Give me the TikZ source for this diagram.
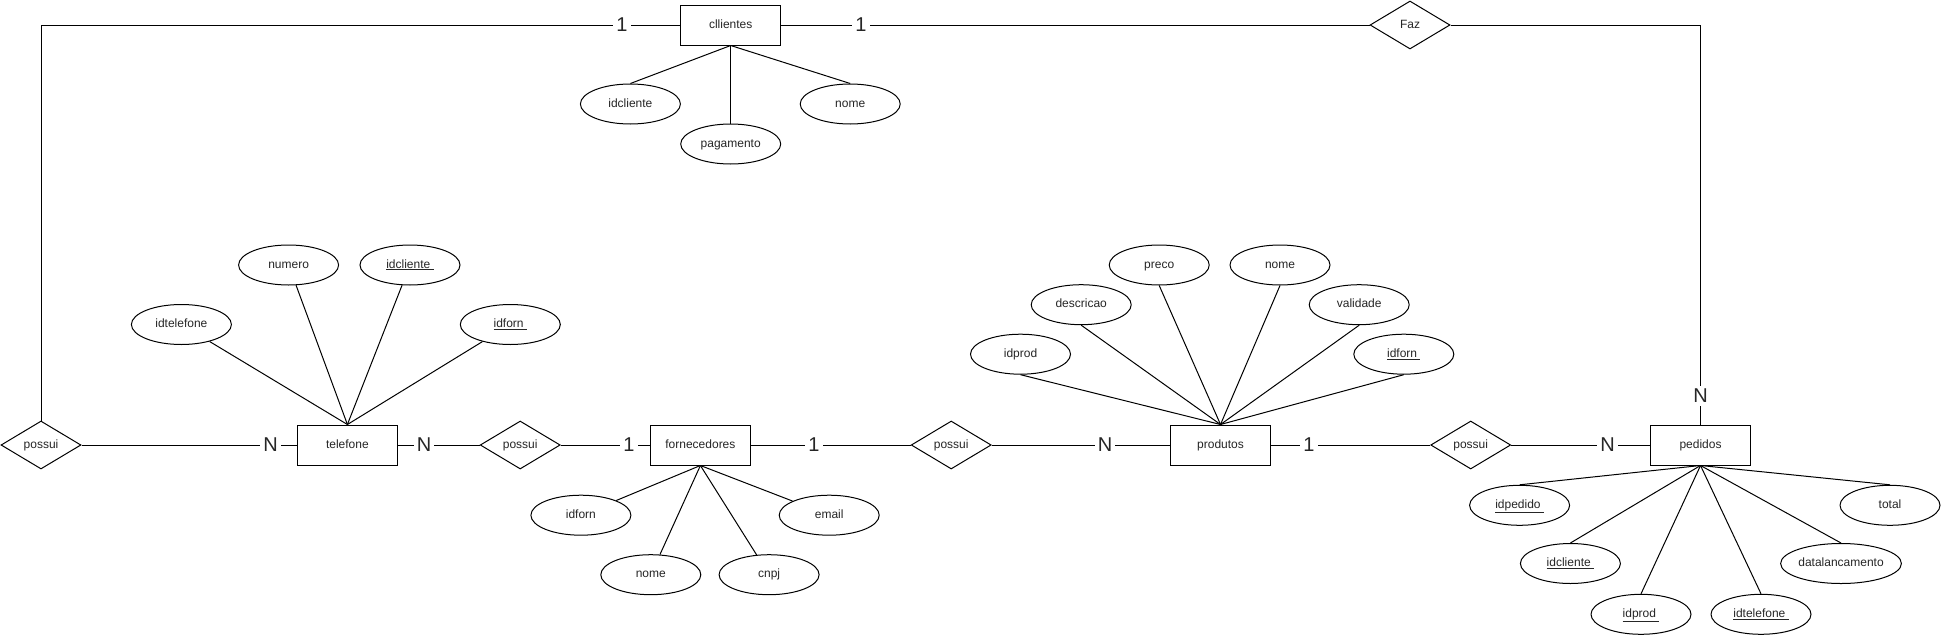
\documentclass[tikz,border=0pt]{standalone}
\usepackage{fontspec}
\setmainfont{Liberation Sans}
\usetikzlibrary{shapes.geometric}
\begin{document}
\begin{tikzpicture}[x=1pt,y=-1pt,line width=1pt,
  every node/.style={font=\fontsize{12}{14}\selectfont, text=black!85},
  ent/.style={draw, rectangle, minimum width=100pt, minimum height=40pt, inner sep=0pt, fill=white, text height=8.5pt, text depth=2.5pt},
  att/.style={draw, ellipse, minimum width=100pt, minimum height=40pt, inner sep=0pt, fill=white, text height=8.5pt, text depth=2.5pt},
  rel/.style={draw, diamond, aspect=1.667, minimum width=80pt, minimum height=48pt, inner sep=0pt, fill=white, text height=8.5pt, text depth=2.5pt},
  card/.style={fill=white, inner xsep=3pt, inner ysep=1pt, font=\fontsize{20}{20}\selectfont}
]
\useasboundingbox (0,0) rectangle (1942,637);

% entities
\node[ent] (cl) at (730.7,25) {cllientes};
\node[ent] (te) at (347.4,445) {telefone};
\node[ent] (fo) at (700.4,445) {fornecedores};
\node[ent] (pr) at (1220.5,445) {produtos};
\node[ent] (pe) at (1700.5,445) {pedidos};

% relationships
\node[rel] (rL) at (41,445) {possui};
\node[rel] (r2) at (520.2,445) {possui};
\node[rel] (r3) at (951.2,445) {possui};
\node[rel] (r4) at (1470.7,445) {possui};
\node[rel] (faz) at (1410,25) {Faz};

% clientes attributes
\node[att] (c1) at (630.4,104) {idcliente};
\node[att] (c2) at (730.7,144) {pagamento};
\node[att] (c3) at (850.2,104) {nome};

% telefone attributes
\node[att] (t1) at (181.4,324.5) {idtelefone};
\node[att] (t2) at (288.6,265) {numero};
\node[att] (t3) at (410,265) {\underline{idcliente\ }};
\node[att] (t4) at (510.3,324.5) {\underline{idforn\ }};

% fornecedores attributes
\node[att] (f1) at (580.9,515.2) {idforn};
\node[att] (f2) at (829.2,515.2) {email};
\node[att] (f3) at (650.8,574.7) {nome};
\node[att] (f4) at (769.1,574.7) {cnpj};

% produtos attributes
\node[att] (p1) at (1020.5,354.2) {idprod};
\node[att] (p2) at (1081.2,304.7) {descricao};
\node[att] (p3) at (1159.2,265) {preco};
\node[att] (p4) at (1280,265) {nome};
\node[att] (p5) at (1359.2,304.7) {validade};
\node[att] (p6) at (1403.8,354.2) {\underline{idforn\ }};

% pedidos attributes
\node[att] (e1) at (1519.6,505.3) {\underline{idpedido\ }};
\node[att] (e2) at (1890,505.3) {total};
\node[att] (e3) at (1570.4,563.5) {\underline{idcliente\ }};
\node[att] (e4) at (1841,563.5) {datalancamento};
\node[att] (e5) at (1641,614.3) {\underline{idprod\ }};
\node[att] (e6) at (1761,614.3) {\underline{idtelefone\ }};

% attribute links
\draw (cl.south) -- (c1.north);
\draw (cl.south) -- (c2.north);
\draw (cl.south) -- (c3.north);
\draw (te.north) -- (t1);
\draw (te.north) -- (t2);
\draw (te.north) -- (t3);
\draw (te.north) -- (t4);
\draw (fo.south) -- (f1);
\draw (fo.south) -- (f2);
\draw (fo.south) -- (f3);
\draw (fo.south) -- (f4);
\draw (pr.north) -- (p1.south);
\draw (pr.north) -- (p2.south);
\draw (pr.north) -- (p3.south);
\draw (pr.north) -- (p4.south);
\draw (pr.north) -- (p5.south);
\draw (pr.north) -- (p6.south);
\draw (pe.south) -- (e1.north);
\draw (pe.south) -- (e2.north);
\draw (pe.south) -- (e3.north);
\draw (pe.south) -- (e4.north);
\draw (pe.south) -- (e5.north);
\draw (pe.south) -- (e6.north);

% relationship links
\draw (cl.west) -| (rL.north);
\draw (cl.east) -- (faz.west);
\draw (faz.east) -| (pe.north);
\draw (rL.east) -- (te.west);
\draw (te.east) -- (r2.west);
\draw (r2.east) -- (fo.west);
\draw (fo.east) -- (r3.west);
\draw (r3.east) -- (pr.west);
\draw (pr.east) -- (r4.west);
\draw (r4.east) -- (pe.west);

% cardinalities
\node[card] (k1) at (622,25) {1};
\node[card] (k2) at (861,25) {1};
\node[card, inner xsep=1pt, inner ysep=3pt] (k3) at (1700.5,396) {N};
\node[card] (k4) at (270.5,445) {N};
\node[card] (k5) at (424,445) {N};
\node[card] (k6) at (629,445) {1};
\node[card] (k7) at (814,445) {1};
\node[card] (k8) at (1105,445) {N};
\node[card] (k9) at (1309,445) {1};
\node[card] (k10) at (1607.6,445) {N};
\end{tikzpicture}
\end{document}
